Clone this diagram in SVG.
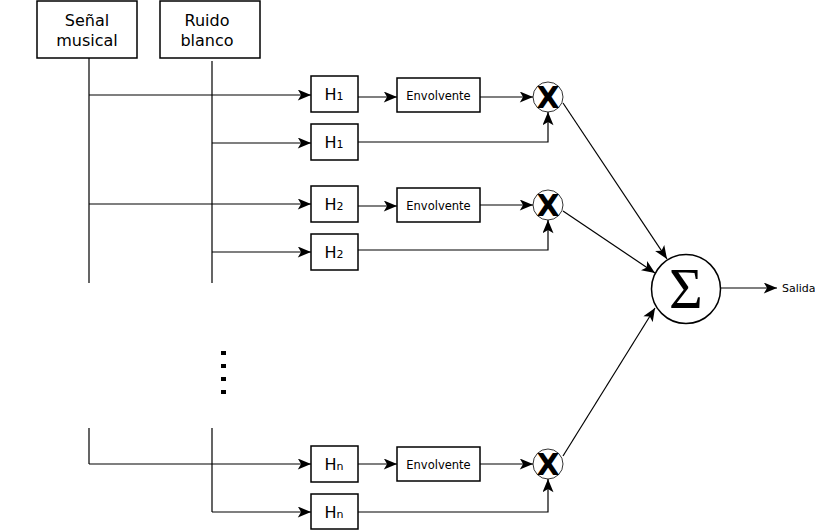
<svg xmlns="http://www.w3.org/2000/svg" width="815" height="530" viewBox="0 0 815 530">
<style>
.box{fill:#fff;stroke:#000;stroke-width:1.5}
.ln{fill:none;stroke:#000;stroke-width:1.2}
.t{font-family:"DejaVu Sans",sans-serif;fill:#000}
.big{font-size:16px}
.env{font-size:11.5px}
.x{font-family:"DejaVu Sans",sans-serif;font-weight:bold;font-size:30px}
</style>
<defs>
<marker id="ar2" viewBox="0 0 12 10" refX="12" refY="5" markerWidth="14" markerHeight="11" markerUnits="userSpaceOnUse" orient="auto">
<path d="M0,0 L12,5 L0,10 L3,5 z" fill="#000"/>
</marker>
</defs>
<rect width="815" height="530" fill="#fff"/>
<g id="connectors">
<path class="ln" d="M89,58 V283 M212,61 V283 M89,428 V464 M212,428 V512"/>
<path class="ln" marker-end="url(#ar2)" d="M89,95 H311"/>
<path class="ln" marker-end="url(#ar2)" d="M212,143 H311"/>
<path class="ln" marker-end="url(#ar2)" d="M89,204 H311"/>
<path class="ln" marker-end="url(#ar2)" d="M212,252 H311"/>
<path class="ln" marker-end="url(#ar2)" d="M89,464 H311"/>
<path class="ln" marker-end="url(#ar2)" d="M212,512 H311"/>
<path class="ln" marker-end="url(#ar2)" d="M358,97 H397"/>
<path class="ln" marker-end="url(#ar2)" d="M358,206 H397"/>
<path class="ln" marker-end="url(#ar2)" d="M358,464 H397"/>
<path class="ln" marker-end="url(#ar2)" d="M480,97 H533"/>
<path class="ln" marker-end="url(#ar2)" d="M480,205 H533"/>
<path class="ln" marker-end="url(#ar2)" d="M480,464 H533"/>
<path class="ln" marker-end="url(#ar2)" d="M358,142 H548 V112"/>
<path class="ln" marker-end="url(#ar2)" d="M358,250 H548 V220"/>
<path class="ln" marker-end="url(#ar2)" d="M358,512 H548 V479"/>
<path class="ln" marker-end="url(#ar2)" d="M563,103 L667,259"/>
<path class="ln" marker-end="url(#ar2)" d="M563,211 L655,273"/>
<path class="ln" marker-end="url(#ar2)" d="M563,456 L655,308"/>
<path class="ln" marker-end="url(#ar2)" d="M721,288 H777"/>
</g>
<g id="senal"><rect class="box" x="37" y="1" width="100" height="57"/>
<text class="t big" x="87" y="26" text-anchor="middle">Señal</text>
<text class="t big" x="87" y="46" text-anchor="middle">musical</text></g>
<g id="ruido"><rect class="box" x="160" y="1" width="100" height="57"/>
<text class="t big" x="207" y="26" text-anchor="middle">Ruido</text>
<text class="t big" x="207" y="46" text-anchor="middle">blanco</text></g>
<g id="h1a"><rect class="box" x="311" y="76" width="47" height="36"/><text class="t big" x="334" y="100" text-anchor="middle">H<tspan font-size="11">1</tspan></text></g>
<g id="h1b"><rect class="box" x="311" y="124" width="47" height="36"/><text class="t big" x="334" y="148" text-anchor="middle">H<tspan font-size="11">1</tspan></text></g>
<g id="h2a"><rect class="box" x="311" y="186" width="47" height="36"/><text class="t big" x="334" y="210" text-anchor="middle">H<tspan font-size="11">2</tspan></text></g>
<g id="h2b"><rect class="box" x="311" y="234" width="47" height="36"/><text class="t big" x="334" y="258" text-anchor="middle">H<tspan font-size="11">2</tspan></text></g>
<g id="hna"><rect class="box" x="311" y="446" width="47" height="36"/><text class="t big" x="334" y="470" text-anchor="middle">H<tspan font-size="11">n</tspan></text></g>
<g id="hnb"><rect class="box" x="311" y="494" width="47" height="35"/><text class="t big" x="334" y="518" text-anchor="middle">H<tspan font-size="11">n</tspan></text></g>
<g id="env1"><rect class="box" x="397" y="78" width="83" height="34"/><text class="t env" x="438.5" y="99.5" text-anchor="middle">Envolvente</text></g>
<g id="env2"><rect class="box" x="397" y="188" width="83" height="34"/><text class="t env" x="438.5" y="209.5" text-anchor="middle">Envolvente</text></g>
<g id="envn"><rect class="box" x="397" y="447" width="83" height="34"/><text class="t env" x="438.5" y="468.5" text-anchor="middle">Envolvente</text></g>
<g id="mul1"><circle cx="548" cy="97" r="15" fill="#fff" stroke="#000" stroke-width="0.8"/><text class="x" x="548" y="108" text-anchor="middle">X</text></g>
<g id="mul2"><circle cx="548" cy="205" r="15" fill="#fff" stroke="#000" stroke-width="0.8"/><text class="x" x="548" y="216" text-anchor="middle">X</text></g>
<g id="muln"><circle cx="548" cy="464" r="15" fill="#fff" stroke="#000" stroke-width="0.8"/><text class="x" x="548" y="475" text-anchor="middle">X</text></g>
<g id="sum"><circle cx="686" cy="289" r="34.5" fill="#fff" stroke="#000" stroke-width="1.5"/>
<text x="686" y="308" text-anchor="middle" font-family="Liberation Serif, serif" font-size="58">Σ</text></g>
<g id="salida"><text class="t" x="782" y="292" font-size="11">Salida</text></g>
<g id="dots">
<rect x="221" y="351" width="5" height="4"/><rect x="221" y="364" width="5" height="4"/><rect x="221" y="377" width="5" height="4"/><rect x="221" y="390" width="5" height="4"/>
</g>
</svg>
